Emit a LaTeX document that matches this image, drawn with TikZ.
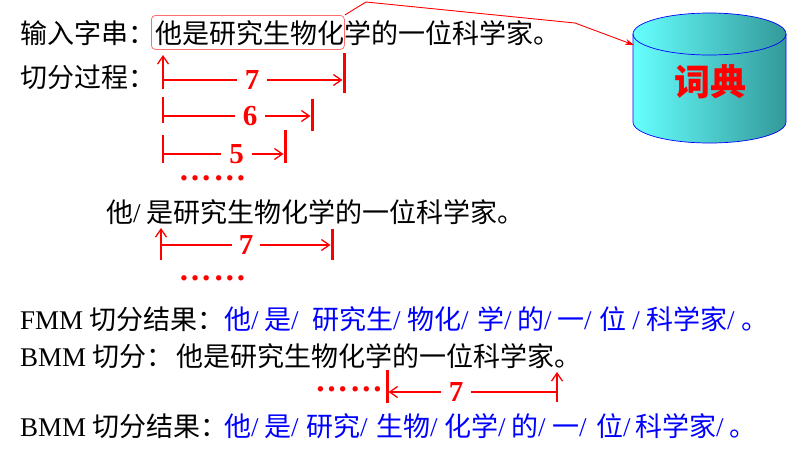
\documentclass[tikz,border=0pt]{standalone}
\usepackage{fontspec}
\setmainfont{Liberation Serif}
\newfontfamily\cjk{Noto Sans CJK SC}
\usetikzlibrary{arrows.meta}
\newcommand\slsh{{\rmfamily /}}
\newcommand\twoell{…\kern2pt…}
\definecolor{cylL}{RGB}{102,255,255}
\definecolor{cylR}{RGB}{51,153,153}
\definecolor{boxred}{RGB}{255,110,110}
\begin{document}
\begin{tikzpicture}[x=1pt,y=-1pt,
  tx/.style={anchor=base west, inner sep=0pt, font=\cjk\fontsize{27}{32}\selectfont},
  bl/.style={tx, text=blue},
  num/.style={font=\bfseries\fontsize{29}{32}\selectfont, text=red, inner xsep=8pt, inner ysep=0pt},
  ln/.style={red, line width=1.3pt},
  arr/.style={ln, -{Straight Barb[length=8pt,width=11pt,line width=1.3pt]}},
  barst/.style={red, line width=3pt},
  dotst/.style={font=\bfseries\fontsize{33}{34}\selectfont, text=red, anchor=base,
                inner sep=0pt, text height=5pt, text depth=0pt},
  rim/.style={draw=blue, line width=0.7pt}
]
\fill[white] (0,0) rectangle (803,459);
\useasboundingbox (0,0) rectangle (803,459);

% ---- dictionary cylinder
\path[rim, left color=cylL, right color=cylR]
  (633,34) -- (633,122)
  arc[start angle=180, end angle=360, x radius=76.5pt, y radius=21pt]
  -- (786,34)
  arc[start angle=0, end angle=180, x radius=76.5pt, y radius=21pt] -- cycle;
\draw[rim] (633,34) arc[start angle=180, end angle=360, x radius=76.5pt, y radius=21pt];
\node[font=\cjk\bfseries\fontsize{36}{40}\selectfont, text=red, inner sep=0pt] (dict) at (710,82) {词典};
\coordinate (cylA) at (634,45);

% ---- row 1
\node[tx] (in1) at (20,43) {输入字串：他是研究生物化学的一位科学家。};
\node[draw=boxred, line width=0.8pt, rounded corners=4pt, minimum width=193pt,
      minimum height=34pt, anchor=north west, inner sep=0pt] (box) at (151,15) {};
\draw[red, line width=0.9pt, -{Stealth[length=9pt,width=6pt]}]
  (box.north east) -- (366,2) -- (575,23) -- (cylA);

% ---- row 2
\node[tx] (in2) at (20,87) {切分过程：};

% arrow 7
\coordinate (v7b) at (163,89); \coordinate (v7t) at (163,55);
\draw[arr] (v7b) -- (v7t);
\coordinate (h7) at (163,80);
\node[num] (n7) at (252,80) {7};
\coordinate (b7t) at (344,53); \coordinate (b7b) at (344,93);
\draw[barst] (b7t) -- (b7b);
\draw[ln] (h7) -- (n7.west);
\draw[arr] (n7.east) -- ([xshift=-1.5pt]b7t |- h7);

% arrow 6
\coordinate (v6b) at (163,123); \coordinate (v6t) at (163,97);
\draw[ln] (v6b) -- (v6t);
\coordinate (h6) at (163,116);
\node[num] (n6) at (250,116) {6};
\coordinate (b6t) at (312,99); \coordinate (b6b) at (312,131);
\draw[barst] (b6t) -- (b6b);
\draw[ln] (h6) -- (n6.west);
\draw[arr] (n6.east) -- ([xshift=-1.5pt]b6t |- h6);

% arrow 5
\coordinate (v5b) at (163,163); \coordinate (v5t) at (163,135);
\draw[ln] (v5b) -- (v5t);
\coordinate (h5) at (163,154);
\node[num] (n5) at (236.5,154) {5};
\coordinate (b5t) at (285,130); \coordinate (b5b) at (285,163);
\draw[barst] (b5t) -- (b5b);
\draw[ln] (h5) -- (n5.west);
\draw[arr] (n5.east) -- ([xshift=-1.5pt]b5t |- h5);

\node[dotst] (d1) at (212.5,180) {\twoell};

% ---- row 3
\node[tx] (r3) at (106,222) {他\slsh\ 是研究生物化学的一位科学家。};
\coordinate (vab) at (161,260); \coordinate (vat) at (161,228);
\draw[arr] (vab) -- (vat);
\coordinate (ha) at (161,245);
\node[num, inner xsep=6.5pt] (na) at (246,245) {7};
\coordinate (bat) at (332,229); \coordinate (bab) at (332,260);
\draw[barst] (bat) -- (bab);
\draw[ln] (ha) -- (na.west);
\draw[arr] (na.east) -- ([xshift=-1.5pt]bat |- ha);

\node[dotst] (d2) at (212.5,280) {\twoell};

% ---- FMM result
\node[tx] (fl) at (20,329) {{\rmfamily FMM }切分结果：};
\node[bl] (f1) at (224,329) {他\slsh};
\node[bl] (f2) at (264,329) {是\slsh};
\node[bl] (f3) at (312,329) {研究生\slsh};
\node[bl] (f4) at (407,329) {物化\slsh};
\node[bl] (f5) at (477,329) {学\slsh};
\node[bl] (f6) at (517,329) {的\slsh};
\node[bl] (f7) at (557,329) {一\slsh};
\node[bl] (f8) at (599,329) {位\ \slsh};
\node[bl] (f9) at (646,329) {科学家\slsh};
\node[bl] (f10) at (741,329) {。};

% ---- BMM
\node[tx] (bm) at (20,366) {{\rmfamily BMM }切分：};
\node[tx] (bs) at (176,366) {他是研究生物化学的一位科学家。};

\coordinate (bbt) at (387,370); \coordinate (bbb) at (387,403);
\draw[barst] (bbt) -- (bbb);
\coordinate (vbb) at (557,402); \coordinate (vbt) at (557,372);
\draw[arr] (vbb) -- (vbt);
\coordinate (hb) at (557,392);
\node[num] (nb) at (456,392) {7};
\draw[ln] (hb) -- (nb.east);
\draw[arr] (nb.west) -- ([xshift=1.5pt]bbt |- hb);
\node[dotst] (d3) at (349,391) {\twoell};

% ---- BMM result
\node[tx] (rl) at (20,436) {{\rmfamily BMM }切分结果：};
\node[bl] (g1) at (224,436) {他\slsh};
\node[bl] (g2) at (264,436) {是\slsh};
\node[bl] (g3) at (306,436) {研究\slsh};
\node[bl] (g4) at (376,436) {生物\slsh};
\node[bl] (g5) at (444,436) {化学\slsh};
\node[bl] (g6) at (511,436) {的\slsh};
\node[bl] (g7) at (552,436) {一\slsh};
\node[bl] (g8) at (596,436) {位\slsh};
\node[bl] (g9) at (635,436) {科学家\slsh};
\node[bl] (g10) at (729,436) {。};
\end{tikzpicture}
\end{document}
